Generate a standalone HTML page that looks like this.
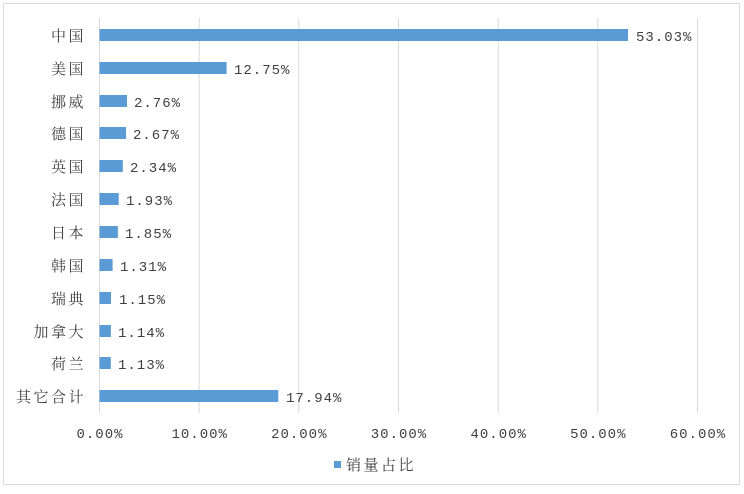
<!DOCTYPE html>
<html><head><meta charset="utf-8"><style>
html,body{margin:0;padding:0;background:#fff}
svg text{font-family:"Liberation Mono","Noto Serif CJK SC",monospace;font-size:14px;fill:#404040;letter-spacing:1px}
svg text.c{font-family:"Noto Serif CJK SC",serif;font-size:15px;letter-spacing:2.5px}
</style></head><body>
<svg width="744" height="489" xmlns="http://www.w3.org/2000/svg">
<rect x="3.5" y="3.5" width="736" height="481" fill="#fff" stroke="#d9d9d9"/>
<g stroke="#d9d9d9" stroke-width="1">
<line x1="99.5" y1="18" x2="99.5" y2="413"/>
<line x1="199.2" y1="18" x2="199.2" y2="413"/>
<line x1="298.8" y1="18" x2="298.8" y2="413"/>
<line x1="398.5" y1="18" x2="398.5" y2="413"/>
<line x1="498.2" y1="18" x2="498.2" y2="413"/>
<line x1="597.8" y1="18" x2="597.8" y2="413"/>
<line x1="697.5" y1="18" x2="697.5" y2="413"/>
</g>
<g fill="#5b9bd5">
<rect x="99.5" y="29" width="528.5" height="12"/>
<rect x="99.5" y="62" width="127.1" height="12"/>
<rect x="99.5" y="95" width="27.5" height="12"/>
<rect x="99.5" y="127" width="26.6" height="12"/>
<rect x="99.5" y="160" width="23.3" height="12"/>
<rect x="99.5" y="193" width="19.2" height="12"/>
<rect x="99.5" y="226" width="18.4" height="12"/>
<rect x="99.5" y="259" width="13.1" height="12"/>
<rect x="99.5" y="292" width="11.5" height="12"/>
<rect x="99.5" y="325" width="11.4" height="12"/>
<rect x="99.5" y="357" width="11.3" height="12"/>
<rect x="99.5" y="390" width="178.8" height="12"/>
</g>
<g text-anchor="end">
<text class="c" x="86" y="41">中国</text>
<text class="c" x="86" y="74">美国</text>
<text class="c" x="86" y="107">挪威</text>
<text class="c" x="86" y="139">德国</text>
<text class="c" x="86" y="172">英国</text>
<text class="c" x="86" y="205">法国</text>
<text class="c" x="86" y="238">日本</text>
<text class="c" x="86" y="271">韩国</text>
<text class="c" x="86" y="304">瑞典</text>
<text class="c" x="86" y="337">加拿大</text>
<text class="c" x="86" y="369">荷兰</text>
<text class="c" x="86" y="402">其它合计</text>
</g>
<g>
<text x="636" y="41">53.03%</text>
<text x="234" y="74">12.75%</text>
<text x="134" y="107">2.76%</text>
<text x="133" y="139">2.67%</text>
<text x="130" y="172">2.34%</text>
<text x="126" y="205">1.93%</text>
<text x="125" y="238">1.85%</text>
<text x="120" y="271">1.31%</text>
<text x="119" y="304">1.15%</text>
<text x="118" y="337">1.14%</text>
<text x="118" y="369">1.13%</text>
<text x="286" y="402">17.94%</text>
</g>
<g text-anchor="middle">
<text x="100" y="438">0.00%</text>
<text x="199.7" y="438">10.00%</text>
<text x="299.3" y="438">20.00%</text>
<text x="399" y="438">30.00%</text>
<text x="498.7" y="438">40.00%</text>
<text x="598.3" y="438">50.00%</text>
<text x="698" y="438">60.00%</text>
</g>
<rect x="334" y="461" width="7" height="7" fill="#5b9bd5"/>
<text class="c" x="346" y="470">销量占比</text>
</svg>
</body></html>
